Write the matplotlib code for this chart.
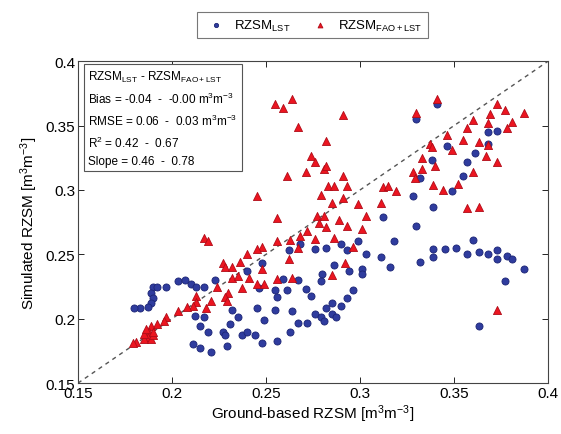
import numpy as np
import matplotlib
matplotlib.use('Agg')
import matplotlib.pyplot as plt

plt.rcParams['font.family'] = ['Liberation Sans', 'DejaVu Sans']
plt.rcParams['mathtext.fontset'] = 'custom'
plt.rcParams['mathtext.rm'] = 'Liberation Sans'
plt.rcParams['mathtext.it'] = 'Liberation Sans'

# RZSM_LST (blue circles): ground-based, simulated
lst_obs = [0.203, 0.207, 0.210, 0.213, 0.217, 0.223, 0.190, 0.192, 0.197, 0.189,
           0.190, 0.189, 0.187, 0.183, 0.180, 0.212, 0.217, 0.215, 0.219, 0.211,
           0.215, 0.221, 0.227, 0.228, 0.231, 0.229, 0.232, 0.235, 0.237, 0.240,
           0.240,
           0.312, 0.299, 0.318, 0.268, 0.290, 0.293, 0.303, 0.311, 0.276, 0.282,
           0.262, 0.248, 0.286, 0.294, 0.301, 0.301, 0.316, 0.280, 0.279, 0.259,
           0.267, 0.255, 0.261, 0.256, 0.271, 0.274, 0.296, 0.293, 0.285, 0.290,
           0.246, 0.245, 0.255, 0.264, 0.282, 0.276, 0.279, 0.285, 0.287, 0.281,
           0.267, 0.272, 0.249, 0.244, 0.248, 0.256, 0.263,
           0.341, 0.330, 0.368, 0.373, 0.368, 0.346, 0.361, 0.338, 0.357, 0.332,
           0.355, 0.349, 0.328, 0.339,
           0.330, 0.332, 0.339, 0.339, 0.345, 0.351, 0.360, 0.357, 0.363, 0.368,
           0.373, 0.373, 0.378, 0.381, 0.387, 0.377, 0.363]
lst_sim = [0.229, 0.230, 0.227, 0.225, 0.225, 0.230, 0.225, 0.225, 0.225, 0.220,
           0.216, 0.212, 0.209, 0.208, 0.208, 0.202, 0.201, 0.194, 0.190, 0.180,
           0.177, 0.174, 0.190, 0.187, 0.196, 0.179, 0.207, 0.201, 0.187, 0.237,
           0.190,
           0.279, 0.260, 0.260, 0.258, 0.258, 0.253, 0.250, 0.248, 0.254, 0.255,
           0.253, 0.243, 0.242, 0.237, 0.239, 0.235, 0.240, 0.235, 0.229, 0.231,
           0.230, 0.222, 0.222, 0.217, 0.223, 0.218, 0.222, 0.216, 0.212, 0.210,
           0.224, 0.208, 0.207, 0.206, 0.208, 0.204, 0.201, 0.204, 0.201, 0.198,
           0.197, 0.197, 0.199, 0.187, 0.181, 0.183, 0.190,
           0.367, 0.355, 0.345, 0.346, 0.336, 0.334, 0.329, 0.323, 0.322, 0.309,
           0.311, 0.299, 0.295, 0.287,
           0.272, 0.244, 0.248, 0.254, 0.254, 0.255, 0.261, 0.250, 0.252, 0.250,
           0.253, 0.246, 0.249, 0.246, 0.239, 0.229, 0.194]

# RZSM_FAO+LST (red triangles)
fao_obs = [0.217, 0.219, 0.227, 0.228, 0.232, 0.236, 0.240, 0.232, 0.235, 0.237,
           0.230, 0.228, 0.229, 0.224, 0.221, 0.218, 0.213, 0.213, 0.211, 0.208,
           0.203, 0.197, 0.196, 0.192, 0.189, 0.188, 0.187, 0.185, 0.181, 0.179,
           0.189, 0.190, 0.185, 0.186, 0.190,
           0.285, 0.299, 0.311, 0.303, 0.256, 0.277, 0.281, 0.278, 0.282, 0.289,
           0.293, 0.301, 0.272, 0.268, 0.276, 0.263, 0.256, 0.286, 0.248, 0.245,
           0.296, 0.267, 0.262, 0.248, 0.292, 0.285, 0.264, 0.256, 0.241, 0.245,
           0.249,
           0.255, 0.259, 0.264, 0.291, 0.267, 0.282, 0.274, 0.276, 0.281, 0.282,
           0.271, 0.261, 0.291, 0.283, 0.286, 0.293, 0.245, 0.279, 0.291, 0.312,
           0.315, 0.319,
           0.341, 0.330, 0.373, 0.377, 0.387, 0.369, 0.360, 0.368, 0.381, 0.378,
           0.357, 0.346, 0.355, 0.363, 0.337, 0.338, 0.349, 0.368, 0.333, 0.367,
           0.373, 0.340, 0.333, 0.328, 0.329, 0.360, 0.339, 0.344, 0.352, 0.363,
           0.357, 0.373]
fao_sim = [0.263, 0.260, 0.243, 0.240, 0.240, 0.244, 0.250, 0.232, 0.233, 0.224,
           0.220, 0.217, 0.214, 0.225, 0.214, 0.208, 0.218, 0.213, 0.210, 0.209,
           0.206, 0.201, 0.198, 0.196, 0.194, 0.190, 0.186, 0.184, 0.182, 0.181,
           0.184, 0.187, 0.188, 0.192, 0.190,
           0.290, 0.289, 0.290, 0.280, 0.278, 0.280, 0.280, 0.274, 0.271, 0.277,
           0.272, 0.270, 0.268, 0.264, 0.262, 0.261, 0.260, 0.263, 0.256, 0.254,
           0.256, 0.255, 0.246, 0.239, 0.243, 0.234, 0.232, 0.231, 0.232, 0.227,
           0.227,
           0.367, 0.364, 0.371, 0.358, 0.349, 0.338, 0.326, 0.322, 0.316, 0.319,
           0.314, 0.311, 0.311, 0.303, 0.303, 0.303, 0.295, 0.296, 0.294, 0.302,
           0.303, 0.299,
           0.371, 0.360, 0.367, 0.362, 0.360, 0.359, 0.354, 0.352, 0.353, 0.348,
           0.348, 0.343, 0.339, 0.337, 0.336, 0.333, 0.331, 0.335, 0.325, 0.326,
           0.322, 0.319, 0.316, 0.314, 0.309, 0.314, 0.304, 0.300, 0.305, 0.287,
           0.286, 0.207]

ticks = [0.15, 0.2, 0.25, 0.3, 0.35, 0.4]
tick_labels = ['0.15', '0.2', '0.25', '0.3', '0.35', '0.4']

stats_lines = [r'RZSM$_{\mathregular{LST}}$ - RZSM$_{\mathregular{FAO+LST}}$',
               r'Bias = -0.04  -  -0.00 m$^3$m$^{-3}$',
               r'RMSE = 0.06  -  0.03 m$^3$m$^{-3}$',
               r'R$^2$ = 0.42  -  0.67',
               r'Slope = 0.46  -  0.78']

fig = plt.figure(figsize=(5.61, 4.35), dpi=100)
ax = fig.add_axes([0.139, 0.117, 0.838, 0.740])

ax.plot([0.15, 0.4], [0.15, 0.4], linestyle=(0, (3, 3)), color='#555555', lw=1, zorder=1)
ax.scatter(lst_obs, lst_sim, s=26, marker='o', c='#2f3c9e', edgecolors='#1c2575',
           linewidths=0.6, zorder=2, label=r'RZSM$_{\mathregular{LST}}$')
ax.scatter(fao_obs, fao_sim, s=34, marker='^', c='#ec1520', edgecolors='#b00c18',
           linewidths=0.6, zorder=3, label=r'RZSM$_{\mathregular{FAO+LST}}$')

ax.set_xlim(0.15, 0.4)
ax.set_ylim(0.15, 0.4)
ax.set_xticks(ticks)
ax.set_xticklabels(tick_labels)
ax.set_yticks(ticks)
ax.set_yticklabels(tick_labels)
ax.tick_params(direction='in', top=True, right=True, labelsize=11, length=4, width=0.6, pad=2)
for sp in ax.spines.values():
    sp.set_color('#444444')
    sp.set_linewidth(0.8)

ax.set_xlabel(r'Ground-based RZSM [m$^3$m$^{-3}$]', fontsize=11, labelpad=2)
ax.set_ylabel(r'Simulated RZSM [m$^3$m$^{-3}$]', fontsize=11, labelpad=4)

# stats box
ax.text(0.022, 0.975, '\n'.join(stats_lines), transform=ax.transAxes, fontsize=8.5,
        va='top', ha='left', linespacing=1.55,
        bbox=dict(boxstyle='square,pad=0.35', facecolor='white', edgecolor='#555555', lw=0.8),
        zorder=4)

leg = fig.legend(loc='center', bbox_to_anchor=(0.557, 0.94), ncol=2, fontsize=9.5,
                 markerscale=0.6, handletextpad=0.4, columnspacing=1.2,
                 frameon=True, fancybox=False, borderpad=0.4)
leg.get_frame().set_edgecolor('#555555')
leg.get_frame().set_linewidth(0.8)

fig.savefig('out.png', dpi=100)
